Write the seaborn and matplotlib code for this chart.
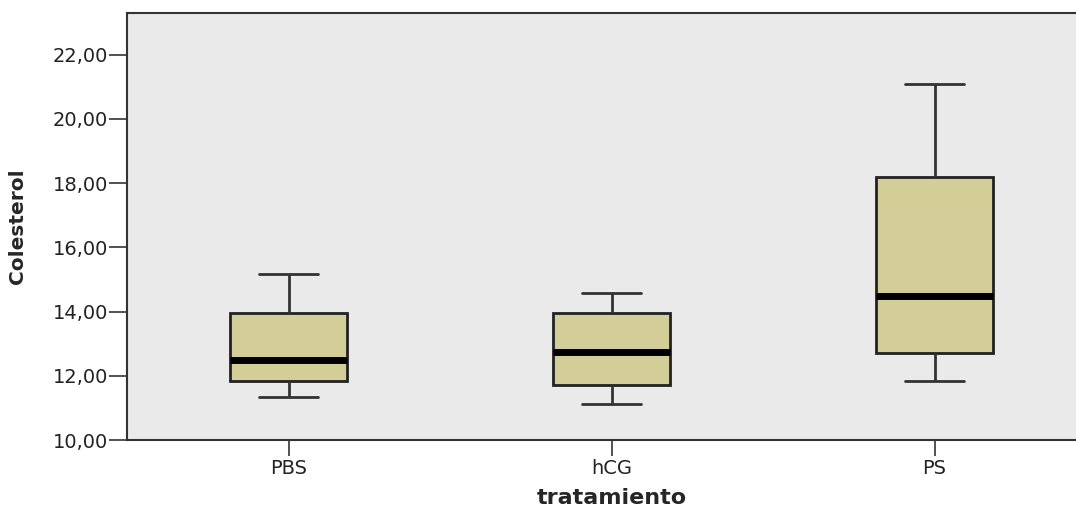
import numpy as np
import pandas as pd
import seaborn as sns
import matplotlib.pyplot as plt

# five-number summaries (min, Q1, median, Q3, max)
tratamientos = ["PBS", "hCG", "PS"]
pbs = [11.34, 11.84, 12.49, 13.96, 15.18]
hcg = [11.12, 11.71, 12.74, 13.96, 14.58]
ps = [11.84, 12.71, 14.49, 18.19, 21.08]
y_ticks = [10, 12, 14, 16, 18, 20, 22]

df = pd.DataFrame({
    "tratamiento": np.repeat(tratamientos, 5),
    "Colesterol": pbs + hcg + ps,
})

sns.set_style("white")
plt.rcParams['font.family'] = ['DejaVu Sans']

fig = plt.figure(figsize=(10.76, 5.12), dpi=100)
ax = fig.add_axes([127 / 1076, 72 / 512, 969 / 1076, 427 / 512])
ax.set_facecolor("#eaeaea")

edge = "#333333"
sns.boxplot(data=df, x="tratamiento", y="Colesterol", order=tratamientos,
            color="#d3ce98", width=0.365, whis=np.inf, ax=ax,
            linewidth=2, linecolor=edge,
            boxprops=dict(facecolor="#d3ce98", edgecolor="#222222", linewidth=2),
            medianprops=dict(color="black", linewidth=5),
            whiskerprops=dict(color=edge, linewidth=2),
            capprops=dict(color=edge, linewidth=2))

ax.set_xlim(-0.5, 2.5)
ax.set_ylim(10, 23.3)
ax.set_yticks(y_ticks)
ax.set_yticklabels([f"{v:.2f}".replace(".", ",") for v in y_ticks])

for s in ["left", "bottom", "top", "right"]:
    ax.spines[s].set_color("#333333")
    ax.spines[s].set_linewidth(1.5)

ax.tick_params(axis="y", length=13, width=1.2, color="#333333", pad=0.5,
               labelsize=14, labelcolor="#222222", left=True)
ax.tick_params(axis="x", length=11.5, width=1.2, color="#333333", pad=2,
               labelsize=14, labelcolor="#222222", bottom=True)

ax.set_xlabel("tratamiento", fontsize=16, fontweight="bold")
ax.set_ylabel("Colesterol", fontsize=14.5, fontweight="bold")
ax.xaxis.set_label_coords(0.5, -0.112)
ax.yaxis.set_label_coords(-0.103, 0.5)

fig.savefig("out.png", dpi=100)
